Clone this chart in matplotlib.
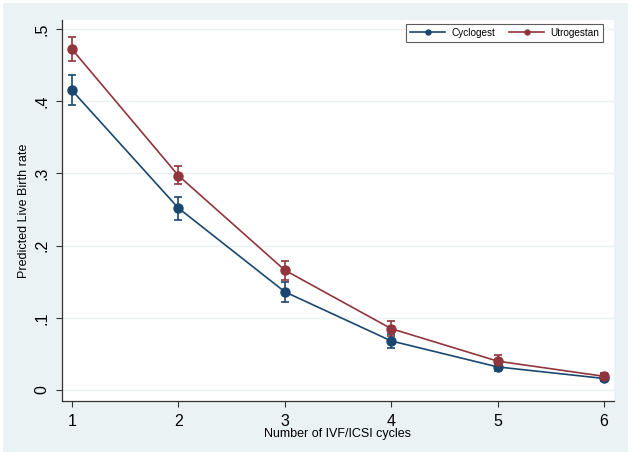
import matplotlib
matplotlib.use("Agg")
import matplotlib.pyplot as plt
from matplotlib.patches import Rectangle

plt.rcParams['font.family'] = ['Liberation Sans', 'DejaVu Sans']

# predicted live birth rate per cycle, with 95% CI
cycles = [1, 2, 3, 4, 5, 6]
cyclo = [0.415, 0.252, 0.136, 0.068, 0.032, 0.016]
cyclo_lo = [0.395, 0.236, 0.122, 0.058, 0.026, 0.013]
cyclo_hi = [0.437, 0.268, 0.149, 0.077, 0.037, 0.019]
utro = [0.472, 0.297, 0.166, 0.085, 0.040, 0.019]
utro_lo = [0.456, 0.285, 0.153, 0.075, 0.033, 0.015]
utro_hi = [0.489, 0.310, 0.179, 0.095, 0.048, 0.023]
yticks = [0, 0.1, 0.2, 0.3, 0.4, 0.5]
ytick_labels = ["0", ".1", ".2", ".3", ".4", ".5"]

blue = "#1a476f"
red = "#90353b"
bg = "#eaf2f3"

fig = plt.figure(figsize=(6.33, 4.62), dpi=100)
fig.patch.set_facecolor("white")
# stata style outer panel
panel = Rectangle((3/633, 10/462), 625/633, 449/462, transform=fig.transFigure,
                  facecolor=bg, edgecolor="none", zorder=-10)
fig.add_artist(panel)
ax = fig.add_axes([62/633, 61/462, 552/633, 381/462])
ax.set_zorder(1)
ax.set_facecolor("white")

def draw(y, lo, hi, col, name):
    err = [[v - l for v, l in zip(y, lo)], [h - v for v, h in zip(y, hi)]]
    ax.errorbar(cycles, y, yerr=err, fmt="none", ecolor=col, elinewidth=1.2,
                capsize=3, capthick=1.2, zorder=3)
    ax.plot(cycles, y, color=col, lw=1.2, marker="o", ms=6.5, zorder=4, label=name)

draw(cyclo, cyclo_lo, cyclo_hi, blue, "Cyclogest")
draw(utro, utro_lo, utro_hi, red, "Utrogestan")

ax.set_xlim(0.906, 6.094)
ax.set_ylim(-0.0152, 0.5125)
ax.set_xticks(cycles)
ax.set_yticks(yticks)
ax.set_yticklabels(ytick_labels, rotation=90, va="center")
ax.tick_params(axis="both", labelsize=11.5, length=4.5, width=0.8, color="#333333", pad=4.5)
ax.grid(axis="y", color=bg, lw=1)
ax.set_axisbelow(True)
for s in ["top", "right"]:
    ax.spines[s].set_visible(False)
for s in ["left", "bottom"]:
    ax.spines[s].set_color("#333333")
    ax.spines[s].set_linewidth(0.9)

ax.set_xlabel("Number of IVF/ICSI cycles", fontsize=9, labelpad=0)
ax.set_ylabel("Predicted Live Birth rate", fontsize=9, labelpad=3)

leg = ax.legend(loc="upper right", ncol=2, fontsize=7.2, frameon=True, fancybox=False,
                markerscale=0.55, handlelength=3.5, handletextpad=0.6, columnspacing=1.4,
                borderpad=0.4, borderaxespad=0, bbox_to_anchor=(0.98, 0.99))
leg.get_frame().set_edgecolor("#333333")
leg.get_frame().set_linewidth(0.8)

fig.savefig("out.png", dpi=100)
